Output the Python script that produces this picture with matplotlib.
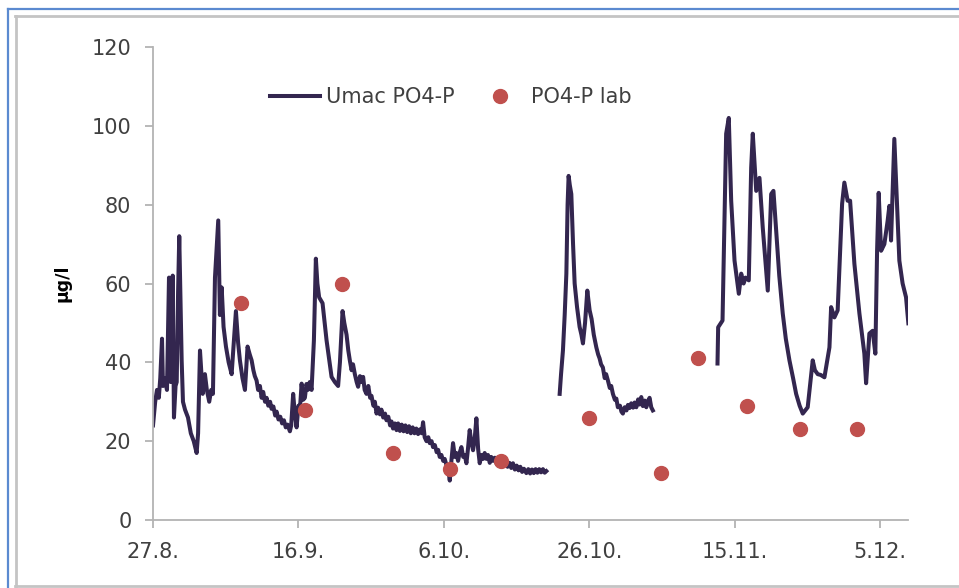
import numpy as np
import matplotlib
matplotlib.use("Agg")
import matplotlib.pyplot as plt
from matplotlib.lines import Line2D

plt.rcParams['font.family'] = ['DejaVu Sans']

# ---- data (x = days since 27.8.) ----
seg1_day = [
    0.0, 0.3, 0.55, 0.8, 1.0, 1.24, 1.37, 1.6, 1.92, 2.2, 2.43, 2.71, 2.88, 3.1, 3.26, 3.45,
    3.61, 3.94, 4.12, 4.4, 4.81, 5.2, 5.6, 6.0, 6.2, 6.46, 6.83, 7.14, 7.4, 7.73, 8.0, 8.24,
    8.52, 8.97, 9.2, 9.44, 9.7, 10.03, 10.4, 10.81, 11.1, 11.4, 11.7, 11.95, 12.3, 12.64,
    13.0, 13.3, 13.56, 13.8, 14.0, 14.24, 14.45, 14.7, 14.93, 15.15, 15.4, 15.62, 15.85,
    16.1, 16.3, 16.55, 16.8, 17.0, 17.25, 17.5, 17.75, 18.0, 18.25, 18.5, 18.82, 19.0,
    19.27, 19.5, 19.74, 20.0, 20.2, 20.43, 20.65, 20.88, 21.1, 21.29, 21.55, 21.8, 22.12,
    22.39, 22.6, 22.84, 23.31, 23.86, 24.2, 24.55, 25.0, 25.45, 25.7, 26.06, 26.3, 26.61,
    26.85, 27.06, 27.3, 27.5, 27.75, 28.0, 28.2, 28.45, 28.7, 28.89, 29.1, 29.35, 29.6,
    29.85, 30.04, 30.3, 30.5, 30.73, 30.95, 31.2, 31.41, 31.65, 31.9, 32.1, 32.35, 32.6,
    32.79, 33.0, 33.25, 33.48, 33.7, 33.95, 34.2, 34.45, 34.7, 34.95, 35.2, 35.45, 35.7,
    35.95, 36.2, 36.45, 36.7, 36.95, 37.13, 37.35, 37.6, 37.85, 38.05, 38.3, 38.5, 38.75,
    39.0, 39.2, 39.42, 39.65, 39.9, 40.1, 40.34, 40.55, 40.8, 41.0, 41.25, 41.5, 41.7,
    41.94, 42.15, 42.4, 42.65, 42.85, 43.09, 43.3, 43.54, 43.75, 44.0, 44.2, 44.46, 44.7,
    44.92, 45.15, 45.4, 45.6, 45.84, 46.05, 46.3, 46.5, 46.74, 47.0, 47.25, 47.5, 47.75,
    48.0, 48.25, 48.5, 48.75, 49.0, 49.25, 49.49, 49.75, 50.0, 50.25, 50.5, 50.75, 51.0,
    51.33, 51.6, 51.85, 52.1, 52.35, 52.6, 52.85, 53.1, 53.35, 53.61, 53.85, 54.08,
]
seg1_val = [
    24, 30, 33, 31, 36, 46, 34, 36, 33, 61.5, 35, 62, 26, 34, 35, 58,
    72, 40.5, 30, 28, 26, 22, 20, 17, 22, 43, 32, 37, 33, 30, 33, 32,
    61.5, 76, 52, 59, 49, 44, 40, 37, 45, 53, 45, 40.5, 36, 33,
    44, 42, 40.5, 38, 36.5, 35.4, 33, 34, 31, 32.5, 30, 31, 29,
    30, 28.2, 28.8, 26.5, 27.5, 25.5, 26.2, 24.5, 25.3, 23.5, 24.2, 22.5, 24,
    32, 27, 23.5, 29, 28, 34.6, 30.5, 31, 34.5, 33, 35, 33, 45.5,
    66.3, 60, 56.5, 55, 45.6, 41, 36.3, 35, 34, 40, 53, 50, 47,
    43, 40.5, 38, 39.5, 37, 35, 33.8, 36.5, 35, 36.3, 33, 32, 34,
    31, 31.5, 29, 30, 27, 28.5, 26.8, 28, 26, 27, 25.3, 26.2, 24,
    25, 23.2, 24.5, 22.8, 24.5, 22.6, 24.2, 22.5, 24, 22.3, 23.8, 22, 23.5,
    22, 23.2, 21.8, 23, 22, 24.8, 21, 20, 21, 19.5, 20, 18.5, 19,
    17.2, 17.8, 16, 16.5, 15, 15.5, 14, 13.5, 10, 14.5, 19.5, 16, 17,
    15, 17, 18.5, 16, 16.5, 14.4, 18, 22.8, 20, 17.7, 20, 25.8, 18,
    14.4, 16.5, 15.5, 17, 15.5, 16.5, 14.5, 16, 15, 15.8, 14.2, 15.5, 14.3,
    15.2, 13.8, 14.8, 13.5, 14.5, 13.2, 14.4, 12.8, 13.8, 12.6, 13.5, 12.2, 13,
    11.9, 12.9, 11.8, 12.8, 11.9, 12.9, 12, 12.9, 12.1, 12.9, 12, 12.4,
]

seg2_day = [
    55.91, 56.1, 56.36, 56.6, 56.83, 57.0, 57.14, 57.3, 57.51, 57.75, 57.97, 58.3, 58.65,
    58.9, 59.11, 59.4, 59.71, 60.03, 60.3, 60.6, 60.95, 61.2, 61.4, 61.6, 61.85, 62.1,
    62.3, 62.54, 62.8, 63.0, 63.23, 63.5, 63.7, 63.91, 64.2, 64.4, 64.6, 64.85, 65.1,
    65.3, 65.52, 65.75, 66.0, 66.21, 66.45, 66.7, 66.9, 67.13, 67.35, 67.6, 67.82, 68.05,
    68.27, 68.5, 68.72,
]
seg2_val = [
    32, 37, 43, 52, 62.5, 80, 87.3, 85, 82.7, 70, 60, 54, 49,
    47, 44.8, 50, 58.2, 53.2, 51, 47, 43.8, 42, 41, 39.5, 38.7, 36,
    37, 35.4, 33.5, 34, 32, 30.5, 30.8, 28.6, 29, 27.5, 27, 28.6, 27.8,
    29.2, 28.4, 29.6, 28.5, 29.8, 28.6, 30.6, 29.3, 31.2, 28.9, 30.3, 28.6, 30.2,
    31, 28.6, 27.8,
]

seg3_day = [
    77.61, 77.7, 78.3, 78.8, 79.16, 79.49, 79.95, 80.54, 80.87, 81.2, 81.46, 81.91, 82.24,
    82.46, 82.93, 83.38, 83.83, 84.52, 84.99, 85.3, 85.67, 86.1, 86.58, 87.0, 87.5, 88.0,
    88.42, 88.9, 89.33, 90.01, 90.7, 91.0, 91.39, 91.8, 92.31, 93.0, 93.23, 93.68, 94.13,
    94.37, 94.74, 95.05, 95.5, 95.84, 96.43, 97.12, 97.8, 98.04, 98.49, 98.94, 99.31,
    99.55, 99.77, 100.1, 100.55, 101.0, 101.24, 101.47, 101.92, 102.16, 102.61, 103.06,
    103.53, 103.85,
]
seg3_val = [
    39.7, 48.9, 50.6, 98, 102, 81, 65.8, 57.4, 62.5, 60, 61.5, 60.8, 89.4,
    98, 83.5, 86.8, 74.2, 58.2, 82.7, 83.5, 73.4, 62, 52.4, 46, 40.5, 36,
    32, 29, 27, 28.6, 40.5, 38, 37, 36.8, 36.2, 43.8, 54, 51.4, 53.2,
    64, 80.2, 85.6, 81, 81, 65, 52.4, 42.2, 34.7, 47.3, 48, 42.2,
    68.3, 83, 68.3, 70, 75.9, 79.7, 70.9, 96.7, 86, 65.8, 60,
    56.5, 49.9,
]

lab_day = [12.1, 20.9, 26.0, 33.0, 40.9, 47.9, 59.9, 69.9, 74.9, 81.7, 88.9, 96.8]
lab_val = [55, 28, 60, 17, 13, 15, 26, 12, 41, 29, 23, 23]

tick_days = [0, 20, 40, 60, 80, 100]
tick_labels = ['27.8.', '16.9.', '6.10.', '26.10.', '15.11.', '5.12.']
y_ticks = [0, 20, 40, 60, 80, 100, 120]

umac_day = seg1_day + [np.nan] + seg2_day + [np.nan] + seg3_day
umac_val = seg1_val + [np.nan] + seg2_val + [np.nan] + seg3_val

# ---- figure ----
W, H = 959, 588
fig = plt.figure(figsize=(W / 100, H / 100), dpi=100)

def fx(px):
    return px / W

def fy(py):
    return 1 - py / H

# frame lines (blue outer, grey inner)
blue = '#5b8ad0'
grey = '#c4c4c4'
fig.add_artist(Line2D([fx(8), fx(8)], [fy(9), fy(588)], color=blue, lw=1.6))
fig.add_artist(Line2D([fx(8), fx(959)], [fy(9), fy(9)], color=blue, lw=1.6))
fig.add_artist(Line2D([fx(15.5), fx(15.5)], [fy(16), fy(586)], color=grey, lw=2.0))
fig.add_artist(Line2D([fx(15), fx(959)], [fy(16), fy(16)], color=grey, lw=2.0))
fig.add_artist(Line2D([fx(15), fx(959)], [fy(586), fy(586)], color=grey, lw=2.0))

ax = fig.add_axes([fx(153), fy(520), (908 - 153) / W, (520 - 47) / H])

line_color = '#33264f'
dot_color = '#c0504d'
ax.plot(umac_day, umac_val, color=line_color, lw=2.9, solid_joinstyle='round',
        label='Umac PO4-P', zorder=2)
ax.plot(lab_day, lab_val, 'o', color=dot_color, ms=10, mec=dot_color,
        label='PO4-P lab', zorder=3)

ax.set_xlim(0, 103.8)
ax.set_ylim(0, 120)
ax.set_xticks(tick_days)
ax.set_xticklabels(tick_labels)
ax.set_yticks(y_ticks)

for s in ['top', 'right']:
    ax.spines[s].set_visible(False)
for s in ['left', 'bottom']:
    ax.spines[s].set_color('#b3b3b3')
    ax.spines[s].set_linewidth(1.3)

ax.tick_params(axis='both', direction='out', length=5.5, width=1.3, color='#b3b3b3',
               labelsize=15, labelcolor='#404040', pad=10)

ax.set_ylabel('µg/l', fontsize=12.5, fontweight='bold', color='#000000')
ax.yaxis.set_label_coords((72 - 153) / 755, 0.5)

leg = ax.legend(loc='center left', bbox_to_anchor=((270 - 153) / 755, (520 - 97) / 473),
                ncol=2, frameon=False, fontsize=15, handlelength=2.4, handletextpad=0.3,
                columnspacing=0.95, borderpad=0, borderaxespad=0, numpoints=1)
for t in leg.get_texts():
    t.set_color('#404040')

fig.savefig('out.png', dpi=100)
